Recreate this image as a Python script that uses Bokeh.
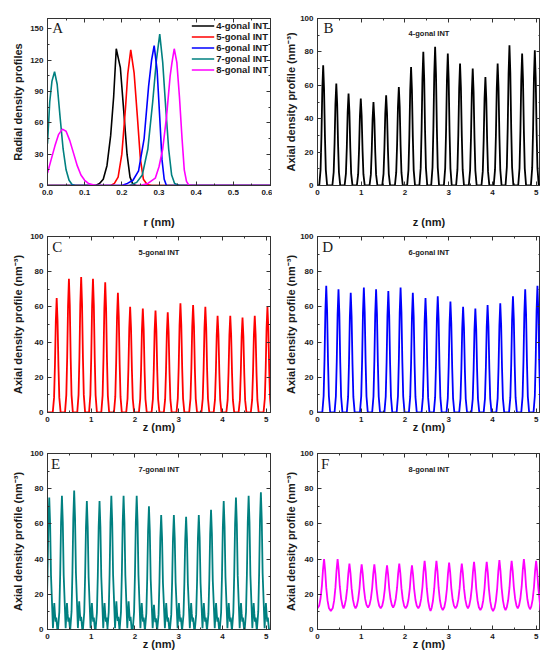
from bokeh.plotting import figure
from bokeh.models import (LinearAxis, Range1d, Label, Legend, LegendItem,
                          FixedTicker, PrintfTickFormatter, CustomJSTickFormatter)
from bokeh.layouts import gridplot
from bokeh.embed import file_html
from bokeh.resources import INLINE

FONT = "Liberation Sans"
SERIF = "Liberation Serif"
TXT = "#1a1a1a"

# ---------------- Panel A : radial density profiles ----------------
r_4gonal = [0.0, 0.13, 0.14, 0.15, 0.16, 0.17, 0.178, 0.185, 0.196, 0.205, 0.214, 0.222, 0.23, 0.24, 0.6]
d_4gonal = [0, 0, 2, 6, 19, 48, 85, 131, 113, 72, 30, 8, 1, 0, 0]

r_5gonal = [0.0, 0.17, 0.18, 0.19, 0.20, 0.21, 0.216, 0.224, 0.233, 0.242, 0.25, 0.258, 0.268, 0.28, 0.6]
d_5gonal = [0, 0, 2, 8, 30, 75, 107, 130, 108, 65, 25, 6, 1, 0, 0]

r_6gonal = [0.0, 0.20, 0.215, 0.23, 0.245, 0.26, 0.272, 0.28, 0.287, 0.295, 0.302, 0.308, 0.314, 0.32, 0.6]
d_6gonal = [0, 0, 2, 5, 14, 45, 95, 120, 134, 110, 65, 25, 6, 0, 0]

r_7gonal = [0.0, 0.006, 0.012, 0.019, 0.026, 0.034, 0.042, 0.05, 0.058, 0.066, 0.075,
            0.22, 0.24, 0.255, 0.27, 0.283, 0.293, 0.302, 0.31, 0.318, 0.326, 0.334, 0.342, 0.355, 0.6]
d_7gonal = [40, 80, 100, 109, 97, 65, 35, 15, 5, 1, 0,
            0, 3, 10, 35, 80, 120, 145, 118, 75, 35, 10, 2, 0, 0]

r_8gonal = [0.0, 0.01, 0.02, 0.03, 0.04, 0.05, 0.06, 0.07, 0.08, 0.09, 0.10, 0.11, 0.12, 0.13,
            0.25, 0.27, 0.29, 0.30, 0.31, 0.32, 0.33, 0.335, 0.341, 0.348, 0.355, 0.362, 0.368, 0.374, 0.38, 0.39, 0.6]
d_8gonal = [12, 25, 38, 49, 54, 52, 43, 31, 19, 10, 5, 2, 1, 0,
            0, 2, 7, 18, 35, 65, 105, 118, 131, 118, 85, 45, 15, 4, 0.5, 0, 0]

series_labels = ["4-gonal INT", "5-gonal INT", "6-gonal INT", "7-gonal INT", "8-gonal INT"]
series_colors = ["#000000", "#ff0000", "#0000ff", "#008080", "#ff00ff"]

# ---------------- Panels B-F : axial density profiles (peak positions / heights) ----------------
B_peak_z = [0.13, 0.43, 0.71, 0.99, 1.28, 1.57, 1.86, 2.14, 2.42, 2.69, 2.98, 3.26, 3.55, 3.84, 4.12, 4.39, 4.68, 4.97]
B_peak_h = [72, 61, 55, 52, 50, 54, 59, 71, 80, 83, 79, 73, 70, 65, 73, 84, 79, 81]

C_peak_z = [0.21, 0.49, 0.77, 1.04, 1.32, 1.61, 1.89, 2.18, 2.47, 2.75, 3.04, 3.33, 3.61, 3.89, 4.18, 4.46, 4.74, 5.03]
C_peak_h = [65, 76, 77, 76, 74, 68, 60, 59, 58, 57, 62, 61, 60, 55, 55, 54, 55, 60]

D_peak_z = [0.20, 0.48, 0.76, 1.06, 1.34, 1.62, 1.90, 2.18, 2.47, 2.75, 3.04, 3.33, 3.61, 3.89, 4.18, 4.47, 4.75, 5.03]
D_peak_h = [72, 70, 68, 71, 70, 69, 71, 68, 65, 66, 63, 60, 59, 61, 62, 66, 70, 72]

E_peak_z = [0.04, 0.33, 0.61, 0.90, 1.19, 1.46, 1.74, 2.04, 2.32, 2.60, 2.89, 3.17, 3.46, 3.74, 4.03, 4.31, 4.60, 4.88]
E_peak_h = [75, 76, 79, 73, 73, 76, 76, 76, 70, 65, 65, 64, 65, 68, 73, 75, 76, 78]
E_minor_h = [15, 15, 16, 15, 15, 16, 16, 15, 14, 15, 15, 15, 15, 15, 15, 15, 15, 15]

F_peak_z = [0.15, 0.46, 0.73, 1.01, 1.30, 1.59, 1.87, 2.16, 2.45, 2.72, 3.01, 3.30, 3.58, 3.87, 4.16, 4.44, 4.72, 5.00]
F_peak_h = [40, 40, 37.5, 37, 37, 36.5, 37.5, 36.5, 39, 39, 38, 37.5, 38.5, 38.5, 39.5, 39, 40, 39]
F_trough_h = [12, 10.5, 12, 12, 12.5, 12, 12.5, 12, 12, 10.5, 11, 12, 12, 11, 10.5, 11, 12, 11.5, 11]

# peak shape templates (offset in nm, fraction of peak height)
peak_dz = [-0.09, -0.06, -0.04, -0.02, 0.0, 0.02, 0.04, 0.06, 0.09]
peak_frac = [0.0, 0.13, 0.41, 0.80, 1.0, 0.80, 0.41, 0.13, 0.0]
minor_dz = [0.085, 0.10, 0.115, 0.13, 0.145, 0.16, 0.185]
minor_frac = [0.05, 0.55, 1.0, 0.6, 0.3, 0.45, 0.0]
F_dz = [-0.11, -0.08, -0.05, -0.025, 0.0, 0.025, 0.05, 0.08, 0.11]
F_frac = [0.06, 0.2, 0.45, 0.78, 1.0, 0.78, 0.45, 0.2, 0.06]

Z_END = 5.1


def spikes(centers, heights):
    zs, ys = [], []
    if centers[0] + peak_dz[0] > 0:
        zs.append(0.0); ys.append(0.0)
    for c, h in zip(centers, heights):
        for dz, f in zip(peak_dz, peak_frac):
            zs.append(c + dz); ys.append(h * f)
    if zs[-1] < Z_END:
        zs.append(Z_END); ys.append(0.0)
    return zs, ys


def spikes_with_minor(centers, heights, minors):
    zs, ys = [], []
    for c, h, m in zip(centers, heights, minors):
        for dz, f in zip(peak_dz[:-2], peak_frac[:-2]):
            zs.append(c + dz); ys.append(h * f)
        for dz, f in zip(minor_dz, minor_frac):
            zs.append(c + dz); ys.append(m * f)
    if zs[-1] < Z_END:
        zs.append(Z_END); ys.append(0.0)
    return zs, ys


def waves(centers, heights, troughs):
    zs, ys = [0.0], [troughs[0]]
    for i, (c, h) in enumerate(zip(centers, heights)):
        left, right = troughs[i], troughs[i + 1]
        if i > 0:
            zs.append((centers[i - 1] + c) / 2); ys.append(left)
        for dz, f in zip(F_dz, F_frac):
            z = c + dz
            if z < 0 or z >= Z_END:
                continue
            base = left if dz < 0 else right
            zs.append(z); ys.append(base + f * (h - base))
    zs.append(Z_END); ys.append(troughs[-1])
    return zs, ys


W1, W2 = 272, 268
BLANK = CustomJSTickFormatter(code="return ''")


def make_panel(width, height, border_left, border_right, border_top, border_bottom,
               x_end, y_end, x_ticks, x_minor, y_ticks, y_minor, xlabel, ylabel, x_fmt,
               xl_standoff, yl_standoff):
    p = figure(width=width, height=height, x_range=Range1d(0, x_end), y_range=Range1d(0, y_end),
               output_backend="svg", toolbar_location=None,
               min_border_left=border_left, min_border_right=border_right,
               min_border_top=border_top, min_border_bottom=border_bottom)
    p.xgrid.visible = False
    p.ygrid.visible = False
    p.outline_line_color = "#333333"
    p.outline_line_width = 1
    p.background_fill_color = "white"
    p.border_fill_color = "white"

    xa = p.below[0]
    ya = p.left[0]
    xt = FixedTicker(ticks=x_ticks, minor_ticks=x_minor)
    yt = FixedTicker(ticks=y_ticks, minor_ticks=y_minor)
    top = LinearAxis(ticker=FixedTicker(ticks=x_ticks, minor_ticks=x_minor), formatter=BLANK)
    right = LinearAxis(ticker=FixedTicker(ticks=y_ticks, minor_ticks=y_minor), formatter=BLANK)
    p.add_layout(top, "above")
    p.add_layout(right, "right")

    for ax in [xa, ya, top, right]:
        ax.axis_line_color = "#333333"
        ax.axis_line_width = 1
        ax.major_tick_in = 4
        ax.major_tick_out = 0
        ax.minor_tick_in = 2
        ax.minor_tick_out = 0
        ax.major_tick_line_color = "#333333"
        ax.minor_tick_line_color = "#333333"
        ax.major_label_text_font = FONT
        ax.major_label_text_font_style = "bold"
        ax.major_label_text_font_size = "8px"
        ax.major_label_text_color = TXT
    for ax in [top, right]:
        ax.major_label_standoff = 0

    xa.ticker = xt
    ya.ticker = yt
    if x_fmt:
        xa.formatter = PrintfTickFormatter(format=x_fmt)
    xa.major_label_standoff = 4
    ya.major_label_standoff = 4
    for ax, lab, so in [(xa, xlabel, xl_standoff), (ya, ylabel, yl_standoff)]:
        ax.axis_label = lab
        ax.axis_label_text_font = FONT
        ax.axis_label_text_font_style = "bold"
        ax.axis_label_text_font_size = "11px"
        ax.axis_label_text_color = TXT
        ax.axis_label_standoff = so
    return p


def add_letter(p, x, y, letter):
    p.add_layout(Label(x=x, y=y, text=letter, text_font=SERIF, text_font_size="15px",
                       text_color=TXT, text_baseline="middle", text_align="left"))


def add_title(p, x, y, text):
    p.add_layout(Label(x=x, y=y, text=text, text_font=FONT, text_font_size="7.5px",
                       text_font_style="bold", text_color=TXT, text_baseline="middle",
                       text_align="center"))


z_ticks = [0, 1, 2, 3, 4, 5]
z_minor = [0.5, 1.5, 2.5, 3.5, 4.5]
a_ticks = [0, 20, 40, 60, 80, 100]
a_minor = [10, 30, 50, 70, 90]
AX_LABEL = "Axial density profile (nm\u207b\u00b3)"

# row heights: row 1 = 18 + 176 + 36, row 2 = 6 + 176 + 34, row 3 = 7 + 176 + 30
# ---- Panel A ----
pA = make_panel(W1, 230, 47, 2, 18, 36, 0.6, 160, [0, 0.1, 0.2, 0.3, 0.4, 0.5, 0.6],
                [0.05, 0.15, 0.25, 0.35, 0.45, 0.55], [0, 30, 60, 90, 120, 150],
                [15, 45, 75, 105, 135], "r (nm)", "Radial density profiles", "%.1f", 18, 3)
series = {
    "4-gonal INT": (r_4gonal, d_4gonal),
    "5-gonal INT": (r_5gonal, d_5gonal),
    "6-gonal INT": (r_6gonal, d_6gonal),
    "7-gonal INT": (r_7gonal, d_7gonal),
    "8-gonal INT": (r_8gonal, d_8gonal),
}
renderers = {}
for lab in ["4-gonal INT", "5-gonal INT", "7-gonal INT", "6-gonal INT", "8-gonal INT"]:
    col = series_colors[series_labels.index(lab)]
    xs, ys = series[lab]
    renderers[lab] = pA.line(xs, ys, line_color=col, line_width=1.6)
legend = Legend(items=[LegendItem(label=lab, renderers=[renderers[lab]]) for lab in series_labels],
                location="top_right", border_line_color=None, background_fill_alpha=0,
                padding=0, margin=2, spacing=0, glyph_width=23, glyph_height=11,
                label_height=11, label_standoff=2,
                label_text_font=FONT, label_text_font_style="bold",
                label_text_font_size="9.5px", label_text_color=TXT)
pA.add_layout(legend)
add_letter(pA, 0.013, 150.6, "A")

# ---- Panel B ----
pB = make_panel(W2, 230, 45, 0, 18, 36, Z_END, 100, z_ticks, z_minor, a_ticks, a_minor,
                "z (nm)", AX_LABEL, None, 18, 0)
zb, yb = spikes(B_peak_z, B_peak_h)
pB.line(zb, yb, line_color="#000000", line_width=1.8)
add_letter(pB, 0.14, 94.1, "B")
add_title(pB, Z_END / 2, 91, "4-gonal INT")

# ---- Panel C ----
pC = make_panel(W1, 216, 47, 2, 6, 34, Z_END, 100, z_ticks, z_minor, a_ticks, a_minor,
                "z (nm)", AX_LABEL, None, -4, 3)
zc, yc = spikes(C_peak_z, C_peak_h)
pC.line(zc, yc, line_color="#ff0000", line_width=1.8)
add_letter(pC, 0.11, 94.1, "C")
add_title(pC, Z_END / 2, 91, "5-gonal INT")

# ---- Panel D ----
pD = make_panel(W2, 216, 45, 0, 6, 34, Z_END, 100, z_ticks, z_minor, a_ticks, a_minor,
                "z (nm)", AX_LABEL, None, -4, 0)
zd, yd = spikes(D_peak_z, D_peak_h)
pD.line(zd, yd, line_color="#0000ff", line_width=1.8)
add_letter(pD, 0.11, 94.1, "D")
add_title(pD, Z_END / 2, 91, "6-gonal INT")

# ---- Panel E ----
pE = make_panel(W1, 213, 47, 2, 7, 30, Z_END, 100, z_ticks, z_minor, a_ticks, a_minor,
                "z (nm)", AX_LABEL, None, -4, 3)
ze, ye = spikes_with_minor(E_peak_z, E_peak_h, E_minor_h)
pE.line(ze, ye, line_color="#008080", line_width=1.8)
add_letter(pE, 0.08, 94.1, "E")
add_title(pE, Z_END / 2, 91, "7-gonal INT")

# ---- Panel F ----
pF = make_panel(W2, 213, 45, 0, 7, 30, Z_END, 100, z_ticks, z_minor, a_ticks, a_minor,
                "z (nm)", AX_LABEL, None, -4, 0)
zf, yf = waves(F_peak_z, F_peak_h, F_trough_h)
pF.line(zf, yf, line_color="#ff00ff", line_width=1.8)
add_letter(pF, 0.08, 94.1, "F")
add_title(pF, Z_END / 2, 91, "8-gonal INT")

grid = gridplot([[pA, pB], [pC, pD], [pE, pF]], toolbar_location=None)

open("out.html", "w").write(file_html(grid, INLINE))
